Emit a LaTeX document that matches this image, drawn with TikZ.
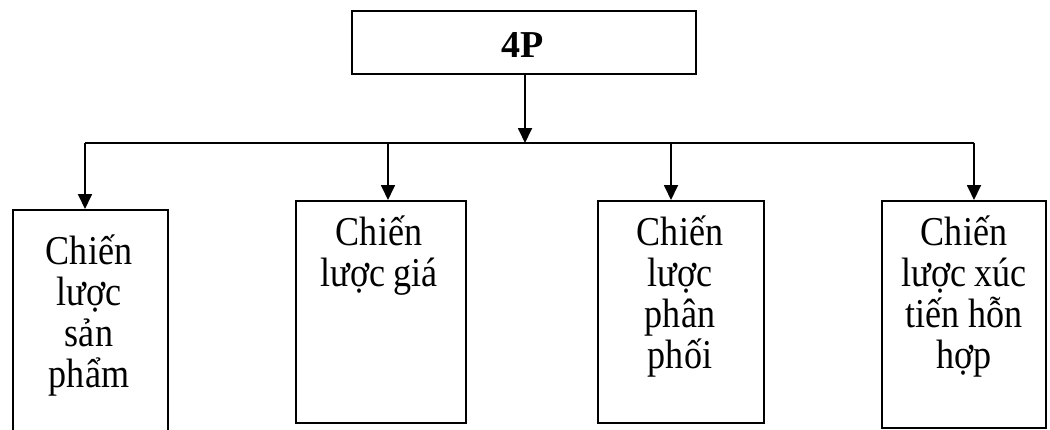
\documentclass[tikz,border=0pt]{standalone}
\usepackage{fontspec}
\setmainfont{Liberation Serif}
% slightly condensed face for the box captions
\newfontfamily\captionface[FakeStretch=0.88]{Liberation Serif}
\usetikzlibrary{arrows.meta}
\begin{document}
\begin{tikzpicture}[x=1pt,y=-1pt,
  frame/.style={draw=black,line width=2pt,inner sep=0pt,anchor=north west},
  label/.style={inner sep=0pt,anchor=base,align=flush center,text width=150pt,
    font=\captionface\fontsize{41}{41}\selectfont,
    execute at begin node={\spaceskip=0.2em\relax}},
  link/.style={line width=1.8pt},
  feed/.style={line width=1.8pt,-{Triangle[length=15pt,width=14pt]}}]
\useasboundingbox (0,0) rectangle (1050,429);
\fill[white] (0,0) rectangle (1050,429);

% top box
\node[frame,minimum width=344pt,minimum height=63pt] (top) at (351,10) {};
\node[inner sep=0pt,anchor=base,font=\fontsize{38}{40}\selectfont\bfseries] (ttl) at (523,57) {4P};

% four strategy boxes (the first one runs past the lower edge)
\node[frame,minimum width=155pt,minimum height=240pt] (b1) at (12,209) {};
\node[frame,minimum width=170pt,minimum height=222pt] (b2) at (295,200) {};
\node[frame,minimum width=166pt,minimum height=222pt] (b3) at (597,200) {};
\node[frame,minimum width=164pt,minimum height=227pt] (b4) at (881,200) {};

\node[label] (t1) at (89,264) {Chiến\\lược\\sản\\phẩm};
\node[label] (t2) at (379,245) {Chiến\\lược giá};
\node[label] (t3) at (680,245) {Chiến\\lược\\phân\\phối};
\node[label] (t4) at (964,245) {Chiến\\lược xúc\\tiến hỗn\\hợp};

% distribution bus
\coordinate (jm) at (525,143);
\coordinate (j1) at (85,143);
\coordinate (j2) at (388,143);
\coordinate (j3) at (671,143);
\coordinate (j4) at (974,143);

\draw[feed] (top.south -| jm) -- (jm);
\draw[link] (j1) -- (j4);
\draw[feed] (j1) -- (j1 |- b1.north);
\draw[feed] (j2) -- (j2 |- b2.north);
\draw[feed] (j3) -- (j3 |- b3.north);
\draw[feed] (j4) -- (j4 |- b4.north);
\end{tikzpicture}
\end{document}
